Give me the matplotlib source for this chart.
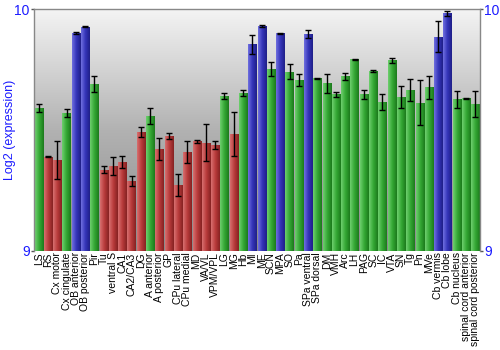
import matplotlib

matplotlib.use("Agg")
import matplotlib.pyplot as plt
import numpy as np
from matplotlib.colors import LinearSegmentedColormap

plt.rcParams["font.family"] = ["Liberation Sans", "DejaVu Sans"]

regions = [
    "LS", "RS", "Cx motor", "Cx cingulate", "OB anterior", "OB posterior", "Pir", "Tu",
    "ventral S", "CA1", "CA2/CA3", "DG", "A anterior", "A posterior", "GP", "CPu lateral",
    "CPu medial", "MD", "VA/VL", "VPM/VPL", "LG", "MG", "Hb", "MI", "ME", "SCN", "MPA",
    "SO", "Pa", "SPa ventral", "SPa dorsal", "DM", "VMH", "Arc", "LH", "PAG", "SC", "IC",
    "VTA", "SN", "Tg", "Pn", "MVe", "Cb vermis", "Cb lobe", "Cb nucleus",
    "spinal cord anterior", "spinal cord posterior",
]
# g = green, r = red, b = blue
groups = list("grrgbbg" "rrrrr" "g" "rrrrrrr" "grg" "bbgbggb" "ggggggggggggg" "bbggg")
values = [
    9.592, 9.390, 9.377, 9.570, 9.901, 9.927, 9.690, 9.336,
    9.351, 9.368, 9.289, 9.492, 9.558, 9.420, 9.475, 9.273,
    9.410, 9.453, 9.448, 9.438, 9.640, 9.483, 9.652, 9.854, 9.931, 9.752, 9.900,
    9.741, 9.705, 9.897, 9.715, 9.693, 9.647, 9.722, 9.792, 9.647, 9.744, 9.616,
    9.789, 9.638, 9.665, 9.612, 9.676, 9.886, 9.982, 9.627,
    9.631, 9.606,
]
errors = [
    0.016, 0.002, 0.078, 0.015, 0.004, 0.002, 0.032, 0.014,
    0.039, 0.023, 0.019, 0.019, 0.032, 0.046, 0.013, 0.045,
    0.045, 0.006, 0.076, 0.017, 0.012, 0.091, 0.013, 0.039, 0.003, 0.028, 0.002,
    0.030, 0.025, 0.017, 0.002, 0.040, 0.012, 0.014, 0.002, 0.017, 0.006, 0.032,
    0.010, 0.045, 0.044, 0.093, 0.047, 0.063, 0.010, 0.034,
    0.002, 0.054,
]

cmaps = {
    "g": LinearSegmentedColormap.from_list("g", ["#6fcf6f", "#34a834", "#1c7a1c"]),
    "r": LinearSegmentedColormap.from_list("r", ["#d87070", "#b83a3a", "#852222"]),
    "b": LinearSegmentedColormap.from_list("b", ["#7070e0", "#3434b8", "#1f1f88"]),
}
base = {"g": "#34a834", "r": "#b83a3a", "b": "#3434b8"}

fig = plt.figure(figsize=(5, 3.5), dpi=100)
ax = fig.add_axes([0.068, 0.283, 0.892, 0.691])

ymin, ymax = 9.0, 10.0
x = np.arange(len(regions))
ax.set_xlim(-0.5, len(regions) - 0.5)
ax.set_ylim(ymin, ymax)

# background gradient
bg = LinearSegmentedColormap.from_list("bg", ["#8a8a8a", "#b2b2b2", "#f4f4f4"])
ax.imshow(np.linspace(0, 1, 256).reshape(-1, 1), cmap=bg, aspect="auto",
          extent=[-0.5, len(regions) - 0.5, ymin, ymax], origin="lower", zorder=0)

bars = ax.bar(x, np.array(values) - ymin, bottom=ymin, width=0.88,
              color=[base[g] for g in groups], zorder=1)
grad = np.linspace(0, 1, 64).reshape(1, -1)
for b, g in zip(bars, groups):
    x0, w, h = b.get_x(), b.get_width(), b.get_height()
    im = ax.imshow(grad, cmap=cmaps[g], aspect="auto",
                   extent=[x0, x0 + w, ymin, ymin + h], zorder=2)
    im.set_clip_path(b)

ax.errorbar(x, values, yerr=errors, fmt="none", ecolor="black", elinewidth=1,
            capsize=2, capthick=1, zorder=3)

ax.set_xticks(x)
ax.set_xticklabels(regions, rotation=90, fontsize=7.5, color="black")
ax.tick_params(axis="x", length=0, pad=1)

ax.set_yticks([9, 10])
ax.set_yticklabels(["9", "10"])
ax.tick_params(axis="y", labelsize=10, colors="#555555", labelcolor="#1a1aff",
               left=True, right=True, labelleft=True, labelright=True,
               length=2, width=1, pad=1)
ax.set_ylabel("Log2 (expression)", color="#1a1aff", fontsize=9)
ax.yaxis.set_label_coords(-0.041, 0.5)

for side in ["left", "right", "top", "bottom"]:
    ax.spines[side].set_color("#888888")
    ax.spines[side].set_linewidth(1)
ax.spines["bottom"].set_visible(False)

fig.savefig("out.png", dpi=100)
